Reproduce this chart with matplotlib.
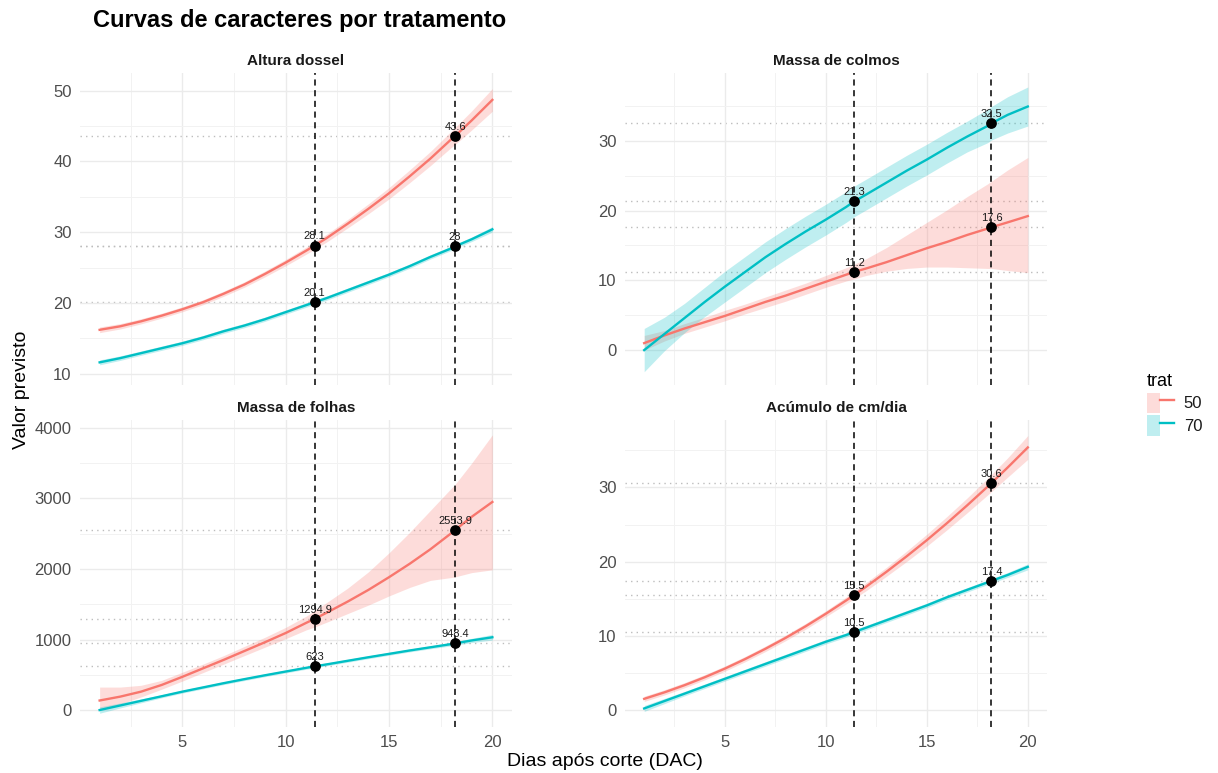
import matplotlib.pyplot as plt
from matplotlib.patches import Patch
from matplotlib.lines import Line2D
from matplotlib.legend_handler import HandlerTuple

plt.rcParams['font.family'] = ['Liberation Sans', 'DejaVu Sans']

# Dados
dias = [1, 2, 3, 4, 5, 6, 7, 8, 9, 10, 11, 11.4, 12, 13, 14, 15, 16, 17, 18, 18.2, 19, 20]
cortes = [11.4, 18.2]
trats = ['50', '70']
cores = {'50': '#F8766D', '70': '#00BFC4'}

# Altura dossel
alt_50 = [16.2, 16.7, 17.4, 18.2, 19.1, 20.1, 21.3, 22.6, 24.1, 25.7, 27.4, 28.1, 29.2, 31.2, 33.3, 35.5,
          37.9, 40.4, 43.1, 43.6, 45.8, 48.7]
alt_50_ic = [0.4, 0.38, 0.36, 0.35, 0.35, 0.35, 0.36, 0.38, 0.41, 0.45, 0.5, 0.52, 0.55, 0.6, 0.7, 0.8,
             0.9, 1.0, 1.15, 1.2, 1.35, 1.6]
alt_70 = [11.6, 12.2, 12.9, 13.6, 14.3, 15.1, 16.0, 16.8, 17.7, 18.7, 19.7, 20.1, 20.7, 21.8, 22.9, 24.0,
          25.2, 26.5, 27.7, 28.0, 29.0, 30.4]
alt_70_ic = [0.35, 0.32, 0.3, 0.3, 0.3, 0.3, 0.3, 0.3, 0.3, 0.3, 0.3, 0.3, 0.3, 0.3, 0.3, 0.3,
             0.3, 0.3, 0.3, 0.3, 0.32, 0.38]
alt_pts = {'50': [28.1, 43.6], '70': [20.1, 28]}

# Massa de colmos
col_50 = [1.0, 2.1, 3.1, 4.0, 4.9, 5.9, 6.9, 7.8, 8.8, 9.8, 10.8, 11.2, 11.7, 12.6, 13.6, 14.6,
          15.5, 16.5, 17.4, 17.6, 18.3, 19.2]
col_50_lo = [0.0, 1.3, 2.4, 3.3, 4.2, 5.2, 6.1, 7.0, 8.0, 9.0, 9.9, 10.2, 10.7, 11.3, 11.7, 11.9,
             11.9, 11.8, 11.7, 11.7, 11.4, 11.1]
col_50_hi = [2.1, 2.8, 3.8, 4.7, 5.7, 6.6, 7.6, 8.6, 9.6, 10.7, 11.8, 12.3, 13.1, 14.7, 16.5, 18.3,
             20.1, 22.0, 23.8, 24.2, 25.8, 27.6]
col_70 = [0.0, 2.3, 4.6, 6.9, 9.1, 11.2, 13.3, 15.2, 17.0, 18.7, 20.5, 21.3, 22.3, 24.0, 25.7, 27.3,
          29.0, 30.6, 32.1, 32.5, 33.7, 34.9]
col_70_ic = [3.1, 2.4, 2.1, 2.1, 2.2, 2.2, 2.2, 2.2, 2.2, 2.2, 2.2, 2.2, 2.2, 2.2, 2.2, 2.2,
             2.2, 2.2, 2.4, 2.4, 2.6, 2.8]
col_pts = {'50': [11.2, 17.6], '70': [21.3, 32.5]}

# Massa de folhas
fol_50 = [140, 195, 265, 360, 475, 595, 715, 840, 965, 1095, 1240, 1294.9, 1385, 1540, 1705, 1885,
          2075, 2280, 2505, 2553.9, 2740, 2950]
fol_50_lo = [10, 90, 190, 300, 415, 535, 655, 775, 895, 1015, 1140, 1180, 1250, 1370, 1490, 1620,
             1740, 1840, 1880, 1890, 1950, 1990]
fol_50_hi = [330, 330, 355, 425, 540, 655, 775, 905, 1035, 1175, 1335, 1410, 1530, 1730, 1960, 2230,
             2520, 2830, 3140, 3200, 3500, 3900]
fol_70 = [5, 70, 135, 200, 265, 325, 385, 442, 497, 550, 603, 623, 652, 702, 752, 800,
          848, 893, 938, 948.4, 990, 1035]
fol_70_ic = [45, 35, 28, 22, 20, 20, 20, 20, 20, 20, 20, 20, 20, 20, 20, 20,
             20, 21, 25, 26, 30, 40]
fol_pts = {'50': [1294.9, 2553.9], '70': [623, 948.4]}

# Acúmulo de cm/dia
acu_50 = [1.5, 2.37, 3.34, 4.41, 5.58, 6.86, 8.24, 9.71, 11.29, 12.98, 14.76, 15.5, 16.64, 18.63, 20.72, 22.9,
          25.2, 27.6, 30.09, 30.6, 32.69, 35.4]
acu_50_ic = [0.35, 0.35, 0.35, 0.35, 0.35, 0.36, 0.37, 0.38, 0.39, 0.4, 0.47, 0.5, 0.55, 0.6, 0.7, 0.8,
             0.9, 1.0, 1.12, 1.15, 1.3, 1.6]
acu_70 = [0.2, 1.2, 2.2, 3.2, 4.2, 5.2, 6.2, 7.2, 8.2, 9.2, 10.1, 10.5, 11.1, 12.1, 13.1, 14.1,
          15.2, 16.2, 17.2, 17.4, 18.2, 19.3]
acu_70_ic = [0.4, 0.35, 0.3, 0.3, 0.3, 0.3, 0.3, 0.3, 0.3, 0.3, 0.3, 0.3, 0.3, 0.3, 0.3, 0.3,
             0.3, 0.3, 0.3, 0.3, 0.33, 0.4]
acu_pts = {'50': [15.5, 30.6], '70': [10.5, 17.4]}


def faixa(y, ic):
    return y, [a - b for a, b in zip(y, ic)], [a + b for a, b in zip(y, ic)]


paineis = [
    ('Altura dossel', {'50': faixa(alt_50, alt_50_ic), '70': faixa(alt_70, alt_70_ic)}, alt_pts,
     [10, 20, 30, 40, 50], (8.4, 52.5)),
    ('Massa de colmos', {'50': (col_50, col_50_lo, col_50_hi), '70': faixa(col_70, col_70_ic)}, col_pts,
     [0, 10, 20, 30], (-5.0, 39.7)),
    ('Massa de folhas', {'50': (fol_50, fol_50_lo, fol_50_hi), '70': faixa(fol_70, fol_70_ic)}, fol_pts,
     [0, 1000, 2000, 3000, 4000], (-235, 4110)),
    ('Acúmulo de cm/dia', {'50': faixa(acu_50, acu_50_ic), '70': faixa(acu_70, acu_70_ic)}, acu_pts,
     [0, 10, 20, 30], (-2.3, 39.1)),
]

W, H = 1218, 773
fig = plt.figure(figsize=(W / 100, H / 100), dpi=100)
fig.patch.set_facecolor('white')

# posições dos painéis (pixels: esquerda, topo, direita, base)
caixas = [(80, 73, 512, 385), (625, 73, 1047, 385),
          (80, 420, 512, 727), (625, 420, 1047, 727)]

for i, (titulo, series, pts, yticks, ylim) in enumerate(paineis):
    l, t, r, b = caixas[i]
    ax = fig.add_axes([l / W, 1 - b / H, (r - l) / W, (b - t) / H])
    ax.set_xlim(0.05, 20.95)
    for s in ax.spines.values():
        s.set_visible(False)
    ax.set_xticks([5, 10, 15, 20])
    ax.set_xticks([2.5, 7.5, 12.5, 17.5], minor=True)
    ax.set_yticks(yticks)
    passo = yticks[1] - yticks[0]
    ax.set_yticks([v + passo / 2 for v in yticks[:-1]] + [yticks[0] - passo / 2, yticks[-1] + passo / 2], minor=True)
    ax.set_ylim(*ylim)
    ax.grid(True, which='major', color='#EBEBEB', lw=1.0, zorder=0)
    ax.grid(True, which='minor', color='#F2F2F2', lw=0.7, zorder=0)
    ax.tick_params(which='both', length=0, labelsize=12, labelcolor='#4D4D4D', pad=6)
    if i < 2:
        ax.tick_params(axis='x', labelbottom=False)
    ax.set_title(titulo, fontsize=11, fontweight='bold', color='#1A1A1A', pad=6)

    # linhas horizontais pontilhadas nos valores
    for tr in trats:
        for v in pts[tr]:
            ax.axhline(v, color='#BDBDBD', lw=1.0, ls=(0, (1, 3)), zorder=1)

    for tr in trats:
        y, lo, hi = series[tr]
        ax.fill_between(dias, lo, hi, color=cores[tr], alpha=0.25, lw=0, zorder=2)
        ax.plot(dias, y, color=cores[tr], lw=1.7, zorder=3)

    for c in cortes:
        ax.axvline(c, color='black', lw=1.1, ls=(0, (4, 3)), zorder=4)

    for tr in trats:
        ax.scatter(cortes, pts[tr], s=45, color='black', zorder=5)
        for c, v in zip(cortes, pts[tr]):
            ax.annotate(f'{v:g}', (c, v), xytext=(0, 3), textcoords='offset points',
                        ha='center', va='bottom', fontsize=8, color='#1A1A1A', zorder=6)

fig.text(93 / W, 1 - 21 / H, 'Curvas de caracteres por tratamento', fontsize=17,
         fontweight='bold', ha='left', va='center')
fig.text(22 / W, 1 - 390 / H, 'Valor previsto', fontsize=14, rotation=90,
         ha='center', va='center')
fig.text(605 / W, 1 - 762 / H, 'Dias após corte (DAC)', fontsize=14,
         ha='center', va='center')

handles = [(Patch(facecolor=cores[tr], alpha=0.25, lw=0), Line2D([], [], color=cores[tr], lw=1.7))
           for tr in trats]
leg = fig.legend(handles, trats, title='trat', loc='upper left',
                 bbox_to_anchor=(1132 / W, 1 - 358 / H), frameon=False, fontsize=12,
                 title_fontsize=13, handlelength=1.6, handleheight=1.5,
                 handler_map={tuple: HandlerTuple(ndivide=None, pad=0)},
                 labelspacing=0.15, handletextpad=0.6, alignment='left')
for txt in leg.get_texts():
    txt.set_color('#1A1A1A')

fig.savefig('out.png', dpi=100)
